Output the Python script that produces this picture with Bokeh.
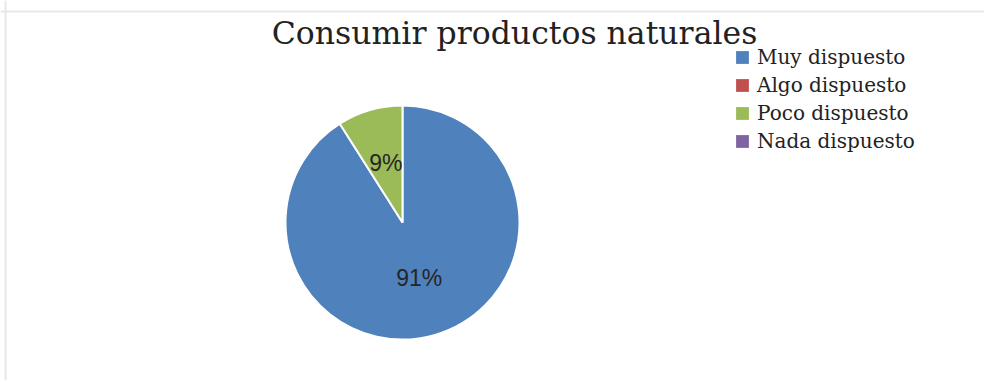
import numpy as np
from bokeh.plotting import figure
from bokeh.models import ColumnDataSource, Range1d, Legend, LegendItem, Label, Span
from bokeh.core.properties import value
from bokeh.embed import file_html
from bokeh.resources import INLINE

title_text = "Consumir productos naturales"
categories = ["Muy dispuesto", "Algo dispuesto", "Poco dispuesto", "Nada dispuesto"]
percent = [91, 0, 9, 0]
colors = ["#4F81BD", "#C0504D", "#9BBB59", "#8064A2"]

W, H = 984, 380
cx, cy, r = 402, H - 222, 117

vals = np.array(percent, dtype=float)
frac = vals / vals.sum()
cum = np.concatenate([[0], np.cumsum(frac)])
start = np.pi / 2 - cum[:-1] * 2 * np.pi
end = np.pi / 2 - cum[1:] * 2 * np.pi

nz = [i for i in range(len(percent)) if percent[i] > 0]
src = ColumnDataSource(dict(cat=[categories[i] for i in nz],
                            start=[start[i] for i in nz], end=[end[i] for i in nz],
                            color=[colors[i] for i in nz],
                            x=[cx] * len(nz), y=[cy] * len(nz)))

p = figure(width=W, height=H, x_range=Range1d(0, W), y_range=Range1d(0, H),
           output_backend="svg", toolbar_location=None, min_border=0,
           outline_line_color=None, background_fill_color="white")
p.axis.visible = False
p.grid.visible = False

p.wedge(x="x", y="y", radius=r, start_angle="start", end_angle="end",
        direction="clock", fill_color="color", line_color="white",
        line_width=2, source=src)

# data labels
mid = (start + end) / 2
lsrc = ColumnDataSource(dict(
    x=[cx + 0.51 * r * np.cos(mid[i]) for i in nz],
    y=[cy + 0.51 * r * np.sin(mid[i]) for i in nz],
    t=[f"{percent[i]}%" for i in nz]))
p.text(x="x", y="y", text="t", source=lsrc, text_align="center",
       text_baseline="middle", text_font=value("Liberation Sans"),
       text_font_size="23px", text_color="#262626", y_offset=-2)

# title
p.add_layout(Label(x=514, y=H - 32, text=title_text, text_align="center",
                   text_baseline="alphabetic", text_font="DejaVu Serif",
                   text_font_size="31.5px", text_color="#222222"))

# chart border
p.add_layout(Span(location=H - 11, dimension="width", line_color="#e8e8e8", line_width=2))
p.add_layout(Span(location=5, dimension="height", line_color="#e8e8e8", line_width=2))

# legend swatches (legend-only proxies, nothing drawn in the plot)
items = []
for cat, col in zip(categories, colors):
    nan = np.array([np.nan])
    rr = p.quad(left=nan, right=nan, top=nan, bottom=nan, fill_color=col, line_color=None)
    items.append(LegendItem(label=cat, renderers=[rr]))
legend = Legend(items=items, location=(734, H - 153), padding=0, margin=0,
                spacing=4, glyph_width=16, glyph_height=16, label_standoff=7,
                label_text_font="DejaVu Serif", label_text_font_size="20px",
                label_text_color="#222222", label_height=20,
                border_line_color=None, background_fill_alpha=0)
p.add_layout(legend, "center")

open("out.html", "w").write(file_html(p, INLINE))
